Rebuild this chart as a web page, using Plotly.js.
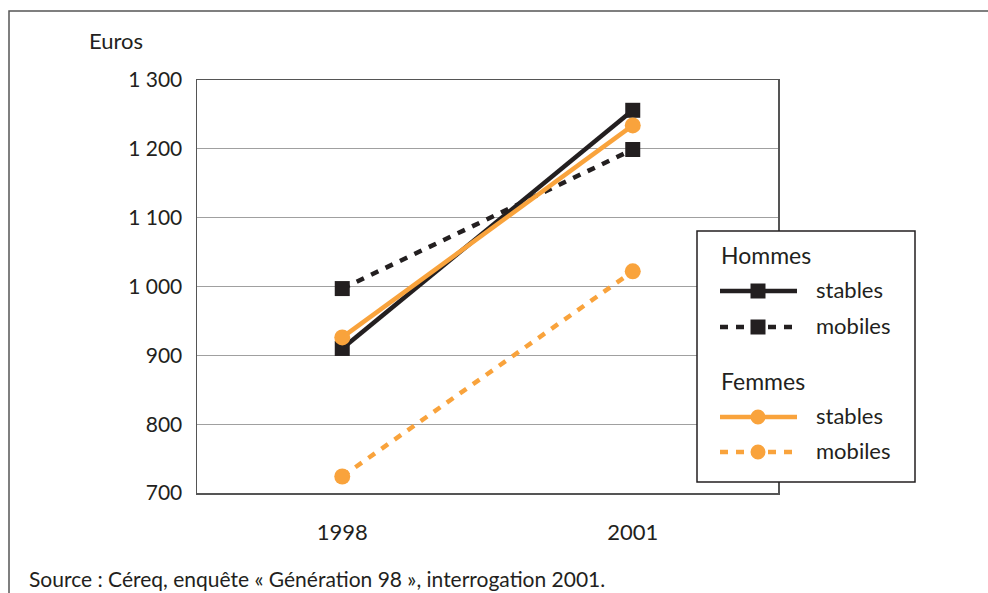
<!DOCTYPE html>
<html><head><meta charset="utf-8">
<script src="https://cdn.plot.ly/plotly-3.0.1.min.js"></script>
<style>html,body{margin:0;padding:0;background:#fff}#chart{width:988px;height:593px}</style>
</head><body><div id="chart"></div>
<script>
const years = ['1998', '2001'];
const hommesStables = [910, 1256];
const hommesMobiles = [997, 1199];
const femmesStables = [926, 1234];
const femmesMobiles = [724, 1022];
const yTickVals = [700, 800, 900, 1000, 1100, 1200, 1300];
const yTickText = ['700', '800', '900', '1 000', '1 100', '1 200', '1 300'];

const BLACK = '#231f20', ORANGE = '#f9a33c';
const FONT = 'Lato, "Open Sans", sans-serif';
const DASH = '8px,8px';

function tr(y, color, dash, symbol) {
  return {x: years, y: y, type: 'scatter', mode: 'lines+markers', showlegend: false,
    line: {color: color, width: 4.5, dash: dash},
    marker: {color: color, size: symbol === 'square' ? 15 : 16, symbol: symbol},
    hoverinfo: 'skip'};
}
const data = [
  tr(hommesMobiles, BLACK, DASH, 'square'),
  tr(hommesStables, BLACK, 'solid', 'square'),
  tr(femmesMobiles, ORANGE, DASH, 'circle'),
  tr(femmesStables, ORANGE, 'solid', 'circle')
];

const L = 197, R = 778, T = 80, B = 493;
const px = x => (x - L) / (R - L);
const py = y => (B - y) / (B - T);

const shapes = [
  {type: 'rect', xref: 'paper', yref: 'paper', x0: px(9), x1: px(1200), y0: py(800), y1: py(11),
   line: {color: '#555', width: 1.5}, fillcolor: 'rgba(0,0,0,0)', layer: 'below'},
  {type: 'rect', xref: 'paper', yref: 'paper', x0: px(697), x1: px(915), y0: py(482), y1: py(231),
   line: {color: BLACK, width: 1.5}, fillcolor: '#fff', layer: 'above'}
];
const annotations = [
  {text: 'Euros', xref: 'paper', yref: 'paper', x: px(87), y: py(41), xanchor: 'left', yanchor: 'middle', showarrow: false, font: {family: FONT, size: 22, color: BLACK}},
  {text: 'Source : Céreq, enquête « Génération 98 », interrogation 2001.', xref: 'paper', yref: 'paper', x: px(27), y: py(578), xanchor: 'left', yanchor: 'middle', showarrow: false, font: {family: FONT, size: 21, color: BLACK}},
  {text: 'Hommes', xref: 'paper', yref: 'paper', x: px(719), y: py(255), xanchor: 'left', yanchor: 'middle', showarrow: false, font: {family: FONT, size: 23, color: BLACK}},
  {text: 'Femmes', xref: 'paper', yref: 'paper', x: px(719), y: py(381), xanchor: 'left', yanchor: 'middle', showarrow: false, font: {family: FONT, size: 23, color: BLACK}}
];
const items = [
  {label: 'stables', y: 291, color: BLACK, dash: 'solid', sym: 'square'},
  {label: 'mobiles', y: 327, color: BLACK, dash: DASH, sym: 'square'},
  {label: 'stables', y: 417, color: ORANGE, dash: 'solid', sym: 'circle'},
  {label: 'mobiles', y: 452, color: ORANGE, dash: DASH, sym: 'circle'}
];
items.forEach(it => {
  shapes.push({type: 'line', xref: 'paper', yref: 'paper', x0: px(720), x1: px(797), y0: py(it.y), y1: py(it.y),
    line: {color: it.color, width: 4.5, dash: it.dash}, layer: 'above'});
  shapes.push({type: it.sym === 'square' ? 'rect' : 'circle', xref: 'paper', yref: 'paper',
    xsizemode: 'pixel', ysizemode: 'pixel', xanchor: px(758), yanchor: py(it.y),
    x0: -7.5, x1: 7.5, y0: -7.5, y1: 7.5, line: {width: 0}, fillcolor: it.color, layer: 'above'});
  annotations.push({text: it.label, xref: 'paper', yref: 'paper', x: px(814), y: py(it.y - 2), xanchor: 'left', yanchor: 'middle', showarrow: false, font: {family: FONT, size: 22, color: BLACK}});
});

const layout = {
  width: 988, height: 593,
  margin: {l: L, r: 988 - R, t: T, b: 593 - B, pad: 0},
  paper_bgcolor: '#fff', plot_bgcolor: '#fff',
  font: {family: FONT, size: 20, color: BLACK},
  showlegend: false,
  xaxis: {type: 'category', range: [-0.5, 1.5], showgrid: false, zeroline: false,
    showline: true, linecolor: '#555', linewidth: 1.5, mirror: true,
    ticks: '', ticklabelstandoff: 19, tickfont: {family: FONT, size: 22, color: BLACK}, fixedrange: true},
  yaxis: {range: [700, 1300], tickvals: yTickVals, ticktext: yTickText,
    showgrid: true, gridcolor: '#a0a0a0', gridwidth: 1, zeroline: false,
    showline: true, linecolor: '#555', linewidth: 1.5, mirror: true,
    ticks: '', ticklabelstandoff: 9, tickfont: {family: FONT, size: 21, color: BLACK}, fixedrange: true},
  shapes: shapes, annotations: annotations
};
Plotly.newPlot('chart', data, layout, {displayModeBar: false, staticPlot: true});
</script></body></html>
